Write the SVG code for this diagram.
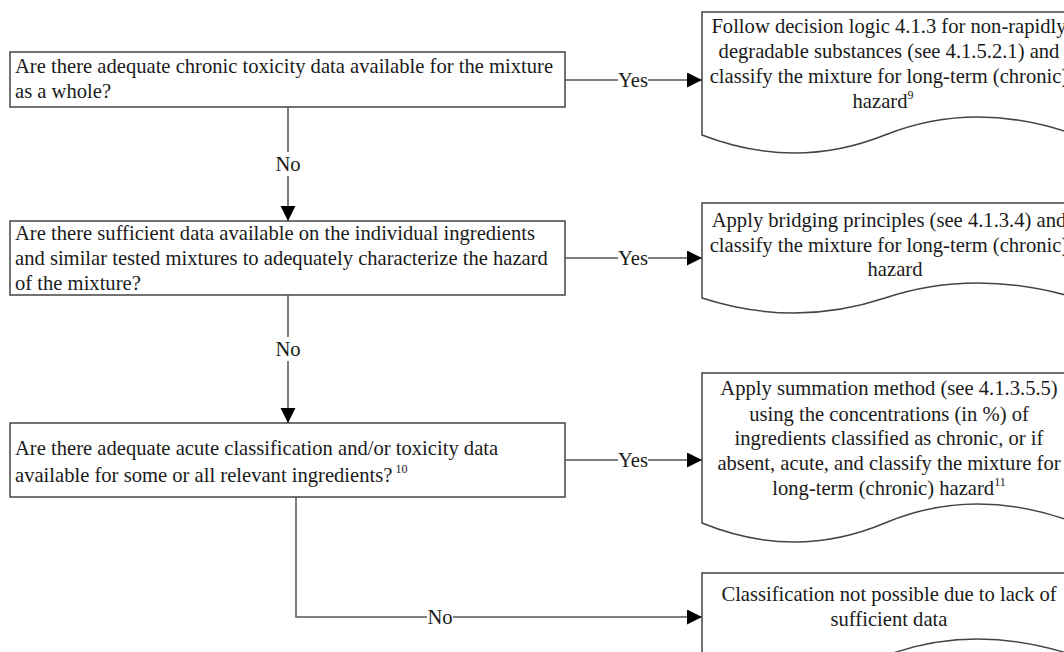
<svg xmlns="http://www.w3.org/2000/svg" width="1064" height="652" viewBox="0 0 1064 652">
<defs>
<marker id="ah" markerUnits="userSpaceOnUse" markerWidth="16" markerHeight="16" refX="15" refY="7.5" orient="auto">
<path d="M0,0 L15,7.5 L0,15 Z" fill="#000"/>
</marker>
<style>
.box{fill:#fff;stroke:#444;stroke-width:1.5}
.ln{fill:none;stroke:#555;stroke-width:1.5}
text{font-family:"Liberation Serif","Times New Roman",serif;font-size:20.6px;fill:#1a1a1a}
.c{text-anchor:middle}
.sup{font-size:12px}
.bg{fill:#fff}
</style>
</defs>
<rect width="1064" height="652" fill="#fff"/>

<g id="connectors">
<path class="ln" d="M288,107 V221" marker-end="url(#ah)"/>
<path class="ln" d="M288,295 V423" marker-end="url(#ah)"/>
<path class="ln" d="M296,497 V617 H702" marker-end="url(#ah)"/>
<path class="ln" d="M565,80 H702" marker-end="url(#ah)"/>
<path class="ln" d="M565,258 H702" marker-end="url(#ah)"/>
<path class="ln" d="M565,460 H702" marker-end="url(#ah)"/>
<rect class="bg" x="276" y="152" width="24" height="24"/>
<text class="c" x="288" y="171">No</text>
<rect class="bg" x="276" y="337" width="24" height="24"/>
<text class="c" x="288" y="356">No</text>
<rect class="bg" x="427" y="606" width="26" height="22"/>
<text class="c" x="440" y="624">No</text>
<rect class="bg" x="618" y="70" width="30" height="20"/>
<text class="c" x="633" y="87">Yes</text>
<rect class="bg" x="618" y="248" width="30" height="20"/>
<text class="c" x="633" y="265">Yes</text>
<rect class="bg" x="618" y="450" width="30" height="20"/>
<text class="c" x="633" y="467">Yes</text>
</g>

<g id="q1">
<rect class="box" x="10" y="52" width="555" height="55"/>
<text x="15" y="73">Are there adequate chronic toxicity data available for the mixture</text>
<text x="15" y="98">as a whole?</text>
</g>

<g id="q2">
<rect class="box" x="10" y="221" width="555" height="74"/>
<text x="15" y="240">Are there sufficient data available on the individual ingredients</text>
<text x="15" y="265">and similar tested mixtures to adequately characterize the hazard</text>
<text x="15" y="290">of the mixture?</text>
</g>

<g id="q3">
<rect class="box" x="10" y="423" width="555" height="74"/>
<text x="15" y="455">Are there adequate acute classification and/or toxicity data</text>
<text x="15" y="482">available for some or all relevant ingredients?<tspan class="sup" dx="3" dy="-9">10</tspan></text>
</g>

<g id="r1">
<path class="box" d="M702,12 H1076 V135 Q975,99 885,135 T702,135 Z"/>
<text class="c" x="889" y="33">Follow decision logic 4.1.3 for non-rapidly</text>
<text class="c" x="889" y="58">degradable substances (see 4.1.5.2.1) and</text>
<text class="c" x="889" y="83">classify the mixture for long-term (chronic)</text>
<text class="c" x="883" y="108">hazard<tspan class="sup" dy="-9">9</tspan></text>
</g>

<g id="r2">
<path class="box" d="M702,203 H1076 V298 Q975,268 885,298 T702,298 Z"/>
<text class="c" x="889" y="227">Apply bridging principles  (see 4.1.3.4) and</text>
<text class="c" x="889" y="252">classify the mixture for long-term (chronic)</text>
<text class="c" x="895" y="276">hazard</text>
</g>

<g id="r3">
<path class="box" d="M702,373 H1076 V523 Q975,485 885,523 T702,523 Z"/>
<text class="c" x="889" y="395">Apply summation method (see 4.1.3.5.5)</text>
<text class="c" x="889" y="421">using the concentrations (in %) of</text>
<text class="c" x="889" y="445">ingredients classified as chronic, or if</text>
<text class="c" x="889" y="470">absent, acute, and classify the mixture for</text>
<text class="c" x="889" y="495">long-term (chronic) hazard<tspan class="sup" dy="-9">11</tspan></text>
</g>

<g id="r4">
<path class="box" d="M702,573 H1076 V656 Q975,622 885,656 T702,656 Z"/>
<text class="c" x="889" y="601">Classification not possible due to lack of</text>
<text class="c" x="889" y="626">sufficient data</text>
</g>
</svg>
